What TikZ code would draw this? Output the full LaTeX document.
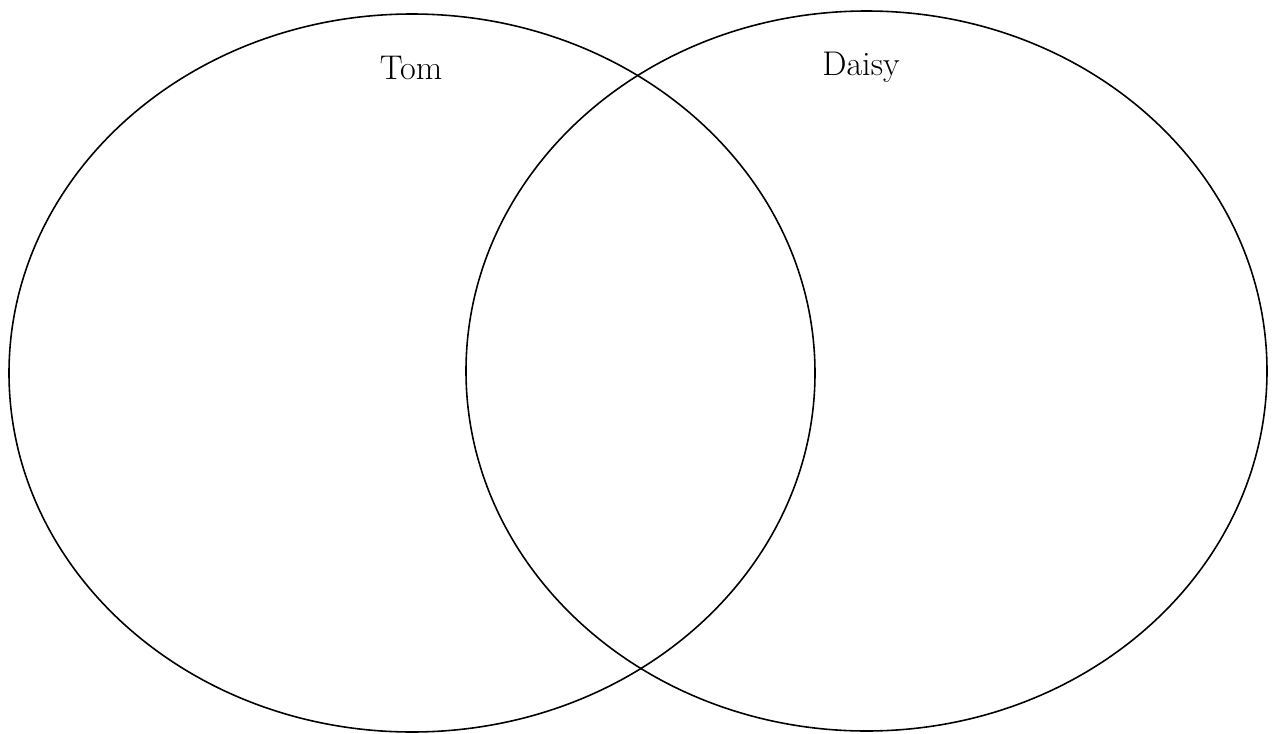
\documentclass[tikz,border=0pt]{standalone}
\begin{document}
\begin{tikzpicture}[x=0.02cm,y=-0.02cm,line width=0.9pt]
\useasboundingbox (0,0) rectangle (1272,734);
%\draw[thin,dotted] (0,0) grid (1272,734);
\draw (412,373) ellipse [x radius=403, y radius=359];
\draw (866.5,371) ellipse [x radius=400.5, y radius=360];
\node[anchor=base] (tom) at (411,79) {\fontsize{19.5}{23}\selectfont Tom};
\node[anchor=base] (daisy) at (861,75) {\fontsize{19.5}{23}\selectfont Daisy};
\end{tikzpicture}
\end{document}
